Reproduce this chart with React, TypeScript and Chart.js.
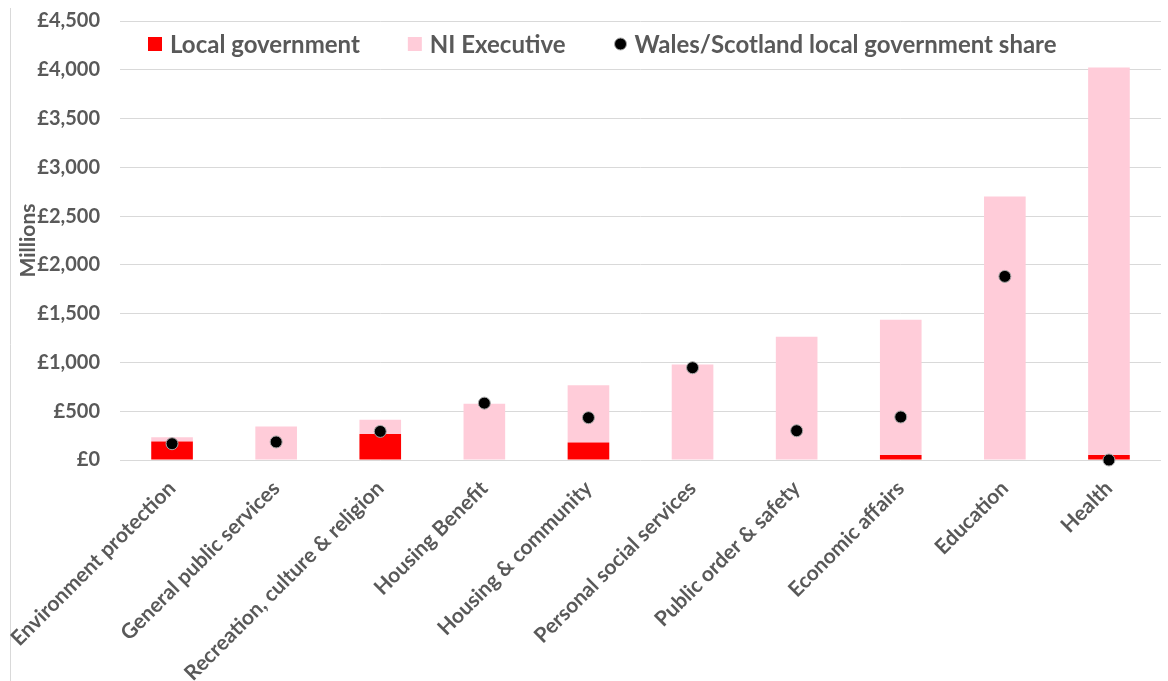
import React, { useEffect, useRef } from "react";
import { Chart, registerables } from "chart.js";

Chart.register(...registerables);

const categories = [
  "Environment protection",
  "General public services",
  "Recreation, culture & religion",
  "Housing Benefit",
  "Housing & community",
  "Personal social services",
  "Public order & safety",
  "Economic affairs",
  "Education",
  "Health",
];
const localGovernment = [190, 0, 266, 0, 180, 0, 0, 52, 0, 52];
const niExecutive = [42, 344, 147, 577, 585, 980, 1264, 1386, 2702, 3972];
const walesScotlandShare = [167, 185, 293, 583, 434, 946, 300, 441, 1882, 0];
const yMin = 0;
const yMax = 4500;
const yStep = 500;

const TEXT = "#595959";
const FONT = "Lato";
const GRID = "#d9d9d9";
const RED = "#ff0000";
const PINK = "#ffccd9";

export default function App() {
  const ref = useRef<HTMLCanvasElement>(null);

  useEffect(() => {
    if (!ref.current) return;

    const borderPlugin = {
      id: "leftBorder",
      beforeDraw(chart: any) {
        const ctx = chart.ctx;
        ctx.save();
        ctx.fillStyle = "#ffffff";
        ctx.fillRect(0, 0, chart.width, chart.height);
        ctx.strokeStyle = GRID;
        ctx.lineWidth = 1;
        ctx.beginPath();
        ctx.moveTo(10.5, 8);
        ctx.lineTo(10.5, chart.height);
        ctx.stroke();
        ctx.restore();
      },
    };

    const legendPlugin = {
      id: "insideLegend",
      afterDraw(chart: any) {
        const ctx = chart.ctx;
        const cy = 44;
        const gap = 48;
        let x = 148;
        ctx.save();
        ctx.font = `bold 24px ${FONT}`;
        ctx.textBaseline = "middle";
        ctx.textAlign = "left";
        chart.data.datasets.forEach((ds: any, i: number) => {
          if (i < 2) {
            ctx.fillStyle = ds.backgroundColor;
            ctx.fillRect(x, cy - 7, 14, 14);
          } else {
            ctx.beginPath();
            ctx.arc(x + 7, cy, 6, 0, Math.PI * 2);
            ctx.fillStyle = "#000000";
            ctx.fill();
            ctx.lineWidth = 1;
            ctx.strokeStyle = "#a6a6a6";
            ctx.stroke();
          }
          const tx = x + (i < 2 ? 22 : 21);
          ctx.fillStyle = TEXT;
          ctx.fillText(ds.label, tx, cy + 1);
          x = tx + ctx.measureText(ds.label).width + gap;
        });
        ctx.restore();
      },
    };

    const chart = new Chart(ref.current, {
      type: "bar",
      data: {
        labels: categories,
        datasets: [
          {
            type: "bar",
            label: "Local government",
            data: localGovernment,
            backgroundColor: RED,
            borderWidth: 0,
            barPercentage: 0.4,
            categoryPercentage: 1,
            stack: "bars",
            order: 1,
          },
          {
            type: "bar",
            label: "NI Executive",
            data: niExecutive,
            backgroundColor: PINK,
            borderWidth: 0,
            barPercentage: 0.4,
            categoryPercentage: 1,
            stack: "bars",
            order: 1,
          },
          {
            type: "line",
            label: "Wales/Scotland local government share",
            data: walesScotlandShare,
            showLine: false,
            pointRadius: 6,
            pointHoverRadius: 6,
            pointBackgroundColor: "#000000",
            pointBorderColor: "#a6a6a6",
            pointBorderWidth: 1,
            borderColor: "#000000",
            backgroundColor: "#000000",
            stack: "share",
            clip: false as any,
            order: 0,
          } as any,
        ],
      },
      options: {
        responsive: false,
        animation: false,
        layout: { padding: { top: 21, left: 0, right: 0, bottom: 0 } },
        plugins: {
          tooltip: { enabled: false },
          legend: { display: false },
        },
        scales: {
          x: {
            stacked: true,
            grid: { display: false },
            border: { display: false },
            ticks: {
              color: TEXT,
              font: { family: FONT, size: 21, weight: "bold" },
              minRotation: 45,
              maxRotation: 45,
              autoSkip: false,
              padding: 8,
            },
            afterFit(scale: any) {
              scale.height = 221;
              scale.paddingLeft = 0;
              scale.paddingRight = 0;
            },
          },
          y: {
            stacked: true,
            min: yMin,
            max: yMax,
            grid: { color: GRID, lineWidth: 1, drawTicks: false },
            border: { display: false },
            ticks: {
              stepSize: yStep,
              padding: 20,
              color: TEXT,
              font: { family: FONT, size: 20, weight: "bold" },
              callback: (v: any) => "£" + Number(v).toLocaleString("en-GB"),
            },
            title: {
              display: true,
              text: "Millions",
              color: TEXT,
              font: { family: FONT, size: 21, weight: "bold" },
              padding: { top: 16, bottom: 0 },
            },
            afterFit(scale: any) {
              scale.width = 120;
              scale.paddingTop = 0;
              scale.paddingBottom = 0;
            },
          },
        },
      },
      plugins: [borderPlugin, legendPlugin],
    });
    return () => chart.destroy();
  }, []);

  return (
    <div style={{ position: "absolute", left: 0, top: 0, width: 1168, height: 681, background: "#fff" }}>
      <canvas ref={ref} width={1168} height={681} style={{ display: "block" }} />
    </div>
  );
}
